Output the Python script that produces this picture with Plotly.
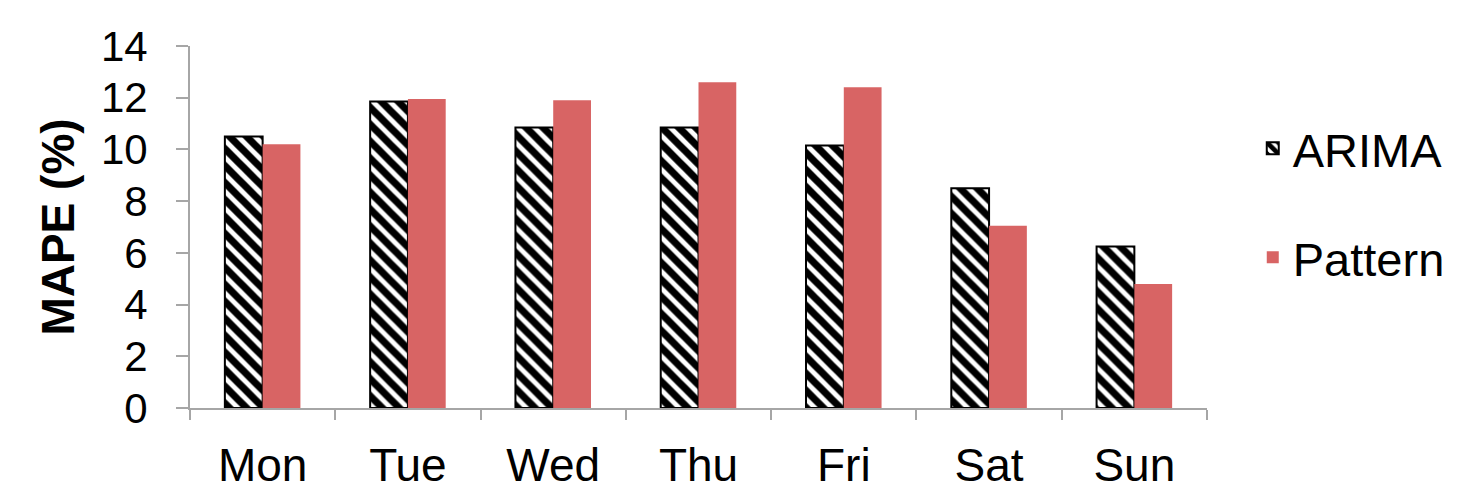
import plotly.graph_objects as go

days = ["Mon", "Tue", "Wed", "Thu", "Fri", "Sat", "Sun"]
arima = [10.5, 11.85, 10.85, 10.85, 10.15, 8.5, 6.25]
pattern = [10.2, 11.95, 11.9, 12.6, 12.4, 7.05, 4.8]
y_ticks = [0, 2, 4, 6, 8, 10, 12, 14]

FONT = "Liberation Sans, Arial, sans-serif"
AXIS_GRAY = "#A6A6A6"

fig = go.Figure()
fig.add_trace(go.Bar(
    x=days, y=arima, name="ARIMA", legendgroup="a",
    marker=dict(color="white", line=dict(color="black", width=2),
                pattern=dict(shape="\\", fgcolor="black", bgcolor="white",
                             fgopacity=1, size=12, solidity=0.6)),
))
fig.add_trace(go.Bar(
    x=days, y=pattern, name="Pattern", legendgroup="b",
    marker=dict(color="#D86464", line=dict(width=0)),
))

fig.update_layout(
    width=1460, height=490,
    margin=dict(l=190, r=253, t=46, b=82, autoexpand=False),
    paper_bgcolor="white", plot_bgcolor="white",
    barmode="group", bargap=0.48, bargroupgap=0,
    font=dict(family=FONT, color="black"),
    legend=dict(x=1.045, y=0.82, xanchor="left", yanchor="top",
                font=dict(size=47), traceorder="grouped", tracegroupgap=45,
                itemwidth=30),
    showlegend=True,
)
fig.update_xaxes(
    type="category", showline=True, linecolor=AXIS_GRAY, linewidth=2,
    ticks="outside", tickson="boundaries", ticklen=10, tickcolor=AXIS_GRAY,
    tickwidth=2, tickfont=dict(size=46, family=FONT), showgrid=False,
    ticklabelstandoff=16, automargin=False,
)
fig.update_yaxes(
    range=[0, 14], tickvals=y_ticks, showline=True, linecolor=AXIS_GRAY,
    linewidth=2, ticks="outside", ticklen=12, tickcolor=AXIS_GRAY, tickwidth=2,
    tickfont=dict(size=42, family=FONT), showgrid=False, zeroline=False,
    ticklabelstandoff=20, automargin=False,
    title=dict(text="<b>MAPE (%)</b>", font=dict(size=46, family=FONT), standoff=12),
)

fig.write_html("out.html")
